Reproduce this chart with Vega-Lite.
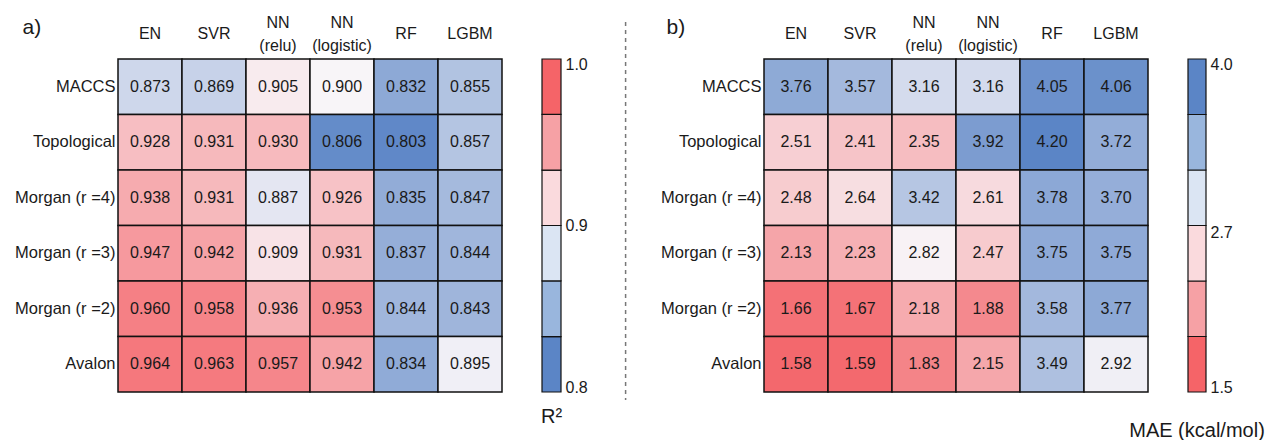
{
  "$schema": "https://vega.github.io/schema/vega-lite/v6.json",
  "padding": {"left": 10, "top": 9, "right": 0, "bottom": 0},
  "config": {
    "font": "Liberation Sans",
    "view": {"stroke": null},
    "axis": {"grid": false, "ticks": false, "domain": false, "tickSize": 0, "labelColor": "#1a1a1a", "titleColor": "#1a1a1a"},
    "title": {"color": "#1a1a1a"}
  },
  "spacing": 40,
  "bounds": "flush",
  "resolve": {"scale": {"color": "independent"}},
  "datasets": {
    "r2": [
      {"fp": "MACCS", "model": "EN", "v": 0.873}, {"fp": "MACCS", "model": "SVR", "v": 0.869}, {"fp": "MACCS", "model": "NN (relu)", "v": 0.905}, {"fp": "MACCS", "model": "NN (logistic)", "v": 0.900}, {"fp": "MACCS", "model": "RF", "v": 0.832}, {"fp": "MACCS", "model": "LGBM", "v": 0.855},
      {"fp": "Topological", "model": "EN", "v": 0.928}, {"fp": "Topological", "model": "SVR", "v": 0.931}, {"fp": "Topological", "model": "NN (relu)", "v": 0.930}, {"fp": "Topological", "model": "NN (logistic)", "v": 0.806}, {"fp": "Topological", "model": "RF", "v": 0.803}, {"fp": "Topological", "model": "LGBM", "v": 0.857},
      {"fp": "Morgan (r =4)", "model": "EN", "v": 0.938}, {"fp": "Morgan (r =4)", "model": "SVR", "v": 0.931}, {"fp": "Morgan (r =4)", "model": "NN (relu)", "v": 0.887}, {"fp": "Morgan (r =4)", "model": "NN (logistic)", "v": 0.926}, {"fp": "Morgan (r =4)", "model": "RF", "v": 0.835}, {"fp": "Morgan (r =4)", "model": "LGBM", "v": 0.847},
      {"fp": "Morgan (r =3)", "model": "EN", "v": 0.947}, {"fp": "Morgan (r =3)", "model": "SVR", "v": 0.942}, {"fp": "Morgan (r =3)", "model": "NN (relu)", "v": 0.909}, {"fp": "Morgan (r =3)", "model": "NN (logistic)", "v": 0.931}, {"fp": "Morgan (r =3)", "model": "RF", "v": 0.837}, {"fp": "Morgan (r =3)", "model": "LGBM", "v": 0.844},
      {"fp": "Morgan (r =2)", "model": "EN", "v": 0.960}, {"fp": "Morgan (r =2)", "model": "SVR", "v": 0.958}, {"fp": "Morgan (r =2)", "model": "NN (relu)", "v": 0.936}, {"fp": "Morgan (r =2)", "model": "NN (logistic)", "v": 0.953}, {"fp": "Morgan (r =2)", "model": "RF", "v": 0.844}, {"fp": "Morgan (r =2)", "model": "LGBM", "v": 0.843},
      {"fp": "Avalon", "model": "EN", "v": 0.964}, {"fp": "Avalon", "model": "SVR", "v": 0.963}, {"fp": "Avalon", "model": "NN (relu)", "v": 0.957}, {"fp": "Avalon", "model": "NN (logistic)", "v": 0.942}, {"fp": "Avalon", "model": "RF", "v": 0.834}, {"fp": "Avalon", "model": "LGBM", "v": 0.895}
    ],
    "mae": [
      {"fp": "MACCS", "model": "EN", "v": 3.76}, {"fp": "MACCS", "model": "SVR", "v": 3.57}, {"fp": "MACCS", "model": "NN (relu)", "v": 3.16}, {"fp": "MACCS", "model": "NN (logistic)", "v": 3.16}, {"fp": "MACCS", "model": "RF", "v": 4.05}, {"fp": "MACCS", "model": "LGBM", "v": 4.06},
      {"fp": "Topological", "model": "EN", "v": 2.51}, {"fp": "Topological", "model": "SVR", "v": 2.41}, {"fp": "Topological", "model": "NN (relu)", "v": 2.35}, {"fp": "Topological", "model": "NN (logistic)", "v": 3.92}, {"fp": "Topological", "model": "RF", "v": 4.20}, {"fp": "Topological", "model": "LGBM", "v": 3.72},
      {"fp": "Morgan (r =4)", "model": "EN", "v": 2.48}, {"fp": "Morgan (r =4)", "model": "SVR", "v": 2.64}, {"fp": "Morgan (r =4)", "model": "NN (relu)", "v": 3.42}, {"fp": "Morgan (r =4)", "model": "NN (logistic)", "v": 2.61}, {"fp": "Morgan (r =4)", "model": "RF", "v": 3.78}, {"fp": "Morgan (r =4)", "model": "LGBM", "v": 3.70},
      {"fp": "Morgan (r =3)", "model": "EN", "v": 2.13}, {"fp": "Morgan (r =3)", "model": "SVR", "v": 2.23}, {"fp": "Morgan (r =3)", "model": "NN (relu)", "v": 2.82}, {"fp": "Morgan (r =3)", "model": "NN (logistic)", "v": 2.47}, {"fp": "Morgan (r =3)", "model": "RF", "v": 3.75}, {"fp": "Morgan (r =3)", "model": "LGBM", "v": 3.75},
      {"fp": "Morgan (r =2)", "model": "EN", "v": 1.66}, {"fp": "Morgan (r =2)", "model": "SVR", "v": 1.67}, {"fp": "Morgan (r =2)", "model": "NN (relu)", "v": 2.18}, {"fp": "Morgan (r =2)", "model": "NN (logistic)", "v": 1.88}, {"fp": "Morgan (r =2)", "model": "RF", "v": 3.58}, {"fp": "Morgan (r =2)", "model": "LGBM", "v": 3.77},
      {"fp": "Avalon", "model": "EN", "v": 1.58}, {"fp": "Avalon", "model": "SVR", "v": 1.59}, {"fp": "Avalon", "model": "NN (relu)", "v": 1.83}, {"fp": "Avalon", "model": "NN (logistic)", "v": 2.15}, {"fp": "Avalon", "model": "RF", "v": 3.49}, {"fp": "Avalon", "model": "LGBM", "v": 2.92}
    ],
    "legR2": [
      {"band": 1, "lo": 0.8, "hi": 0.8333}, {"band": 2, "lo": 0.8333, "hi": 0.8667}, {"band": 3, "lo": 0.8667, "hi": 0.9},
      {"band": 4, "lo": 0.9, "hi": 0.9333}, {"band": 5, "lo": 0.9333, "hi": 0.9667}, {"band": 6, "lo": 0.9667, "hi": 1.0}
    ],
    "legMAE": [
      {"band": 1, "lo": 1.5, "hi": 1.9167}, {"band": 2, "lo": 1.9167, "hi": 2.3333}, {"band": 3, "lo": 2.3333, "hi": 2.75},
      {"band": 4, "lo": 2.75, "hi": 3.1667}, {"band": 5, "lo": 3.1667, "hi": 3.5833}, {"band": 6, "lo": 3.5833, "hi": 4.0}
    ],
    "separator": [{"x": 0.2, "y1": -0.111, "y2": 1.024}]
  },
  "hconcat": [
    {
      "data": {"name": "r2"},
      "width": 384, "height": 333,
      "encoding": {
        "x": {"field": "model", "type": "nominal", "sort": ["EN", "SVR", "NN (relu)", "NN (logistic)", "RF", "LGBM"], "scale": {"paddingInner": 0, "paddingOuter": 0},
              "axis": {"orient": "top", "title": null, "labelAngle": 0, "labelFontSize": 16, "labelBaseline": "middle", "labelLineHeight": 23,
                       "labelPadding": {"condition": {"test": "indexof(datum.label, ' (') > 0", "value": 37}, "value": 26},
                       "labelExpr": "indexof(datum.label, ' (') > 0 ? split(datum.label, ' ') : datum.label", "minExtent": 50}},
        "y": {"field": "fp", "type": "nominal", "sort": ["MACCS", "Topological", "Morgan (r =4)", "Morgan (r =3)", "Morgan (r =2)", "Avalon"], "scale": {"paddingInner": 0, "paddingOuter": 0},
              "axis": {"title": "a)", "titleAngle": 0, "titleX": -96, "titleY": -32, "titleAlign": "left", "titleBaseline": "middle", "titleFontSize": 21, "titleFontWeight": "normal", "labelFontSize": 16.5, "labelPadding": 3, "minExtent": 108, "labelLimit": 200}}
      },
      "layer": [
        {"mark": {"type": "rect", "stroke": "#111111", "strokeWidth": 1.5},
         "encoding": {"color": {"field": "v", "type": "quantitative", "scale": {"domain": [0.8, 0.9, 1.0], "range": ["#5b85c6", "#f8f5f8", "#f33238"], "interpolate": "rgb", "clamp": true}, "legend": null}}},
        {"mark": {"type": "text", "fontSize": 16, "color": "#1a1a1a"},
         "encoding": {"text": {"field": "v", "type": "quantitative", "format": ".3f"}}}
      ]
    },
    {
      "data": {"name": "legR2"},
      "width": 19, "height": 333,
      "title": {"text": "R²", "orient": "bottom", "anchor": "middle", "fontSize": 20, "fontWeight": "normal", "offset": 12, "baseline": "top"},
      "mark": {"type": "rect", "stroke": "#111111", "strokeWidth": 1.2},
      "encoding": {
        "y": {"field": "lo", "type": "quantitative", "scale": {"domain": [0.8, 1.0], "nice": false, "zero": false},
              "axis": {"orient": "right", "title": null, "values": [0.8, 0.9, 1.0], "format": ".1f", "labelFlush": true, "labelFlushOffset": 3, "labelFontSize": 16, "labelPadding": 4}},
        "y2": {"field": "hi"},
        "color": {"field": "band", "type": "ordinal", "scale": {"domain": [1, 2, 3, 4, 5, 6], "range": ["#5b85c6", "#99b6dd", "#dbe5f3", "#fadadd", "#f6a1a5", "#f56468"]}, "legend": null}
      }
    },
    {
      "data": {"name": "separator"},
      "width": 123, "height": 333,
      "mark": {"type": "rule", "color": "#777777", "strokeWidth": 1.5, "strokeDash": [4, 4]},
      "encoding": {
        "x": {"field": "x", "type": "quantitative", "scale": {"domain": [0, 1]}, "axis": null},
        "y": {"field": "y1", "type": "quantitative", "scale": {"domain": [0, 1], "reverse": true, "nice": false, "zero": false}, "axis": null},
        "y2": {"field": "y2"}
      }
    },
    {
      "data": {"name": "mae"},
      "width": 384, "height": 333,
      "encoding": {
        "x": {"field": "model", "type": "nominal", "sort": ["EN", "SVR", "NN (relu)", "NN (logistic)", "RF", "LGBM"], "scale": {"paddingInner": 0, "paddingOuter": 0},
              "axis": {"orient": "top", "title": null, "labelAngle": 0, "labelFontSize": 16, "labelBaseline": "middle", "labelLineHeight": 23,
                       "labelPadding": {"condition": {"test": "indexof(datum.label, ' (') > 0", "value": 37}, "value": 26},
                       "labelExpr": "indexof(datum.label, ' (') > 0 ? split(datum.label, ' ') : datum.label", "minExtent": 50}},
        "y": {"field": "fp", "type": "nominal", "sort": ["MACCS", "Topological", "Morgan (r =4)", "Morgan (r =3)", "Morgan (r =2)", "Avalon"], "scale": {"paddingInner": 0, "paddingOuter": 0},
              "axis": {"title": "b)", "titleAngle": 0, "titleX": -98, "titleY": -32, "titleAlign": "left", "titleBaseline": "middle", "titleFontSize": 21, "titleFontWeight": "normal", "labelFontSize": 16.5, "labelPadding": 3, "minExtent": 108, "labelLimit": 200}}
      },
      "layer": [
        {"mark": {"type": "rect", "stroke": "#111111", "strokeWidth": 1.5},
         "encoding": {"color": {"field": "v", "type": "quantitative", "scale": {"domain": [1.5, 2.85, 4.2], "range": ["#f35f64", "#f8f5f8", "#5b85c6"], "interpolate": "rgb", "clamp": true}, "legend": null}}},
        {"mark": {"type": "text", "fontSize": 16, "color": "#1a1a1a"},
         "encoding": {"text": {"field": "v", "type": "quantitative", "format": ".2f"}}}
      ]
    },
    {
      "data": {"name": "legMAE"},
      "width": 18, "height": 333,
      "title": {"text": "MAE (kcal/mol)", "orient": "bottom", "anchor": "middle", "fontSize": 20, "fontWeight": "normal", "offset": 26, "baseline": "top"},
      "mark": {"type": "rect", "stroke": "#111111", "strokeWidth": 1.2},
      "encoding": {
        "y": {"field": "lo", "type": "quantitative", "scale": {"domain": [1.5, 4.0], "nice": false, "zero": false},
              "axis": {"orient": "right", "title": null, "values": [1.5, 2.7, 4.0], "format": ".1f", "labelFlush": true, "labelFlushOffset": 3, "labelFontSize": 16, "labelPadding": 4}},
        "y2": {"field": "hi"},
        "color": {"field": "band", "type": "ordinal", "scale": {"domain": [1, 2, 3, 4, 5, 6], "range": ["#f56468", "#f6a1a5", "#fadadd", "#dbe5f3", "#99b6dd", "#5b85c6"]}, "legend": null}
      }
    }
  ]
}
